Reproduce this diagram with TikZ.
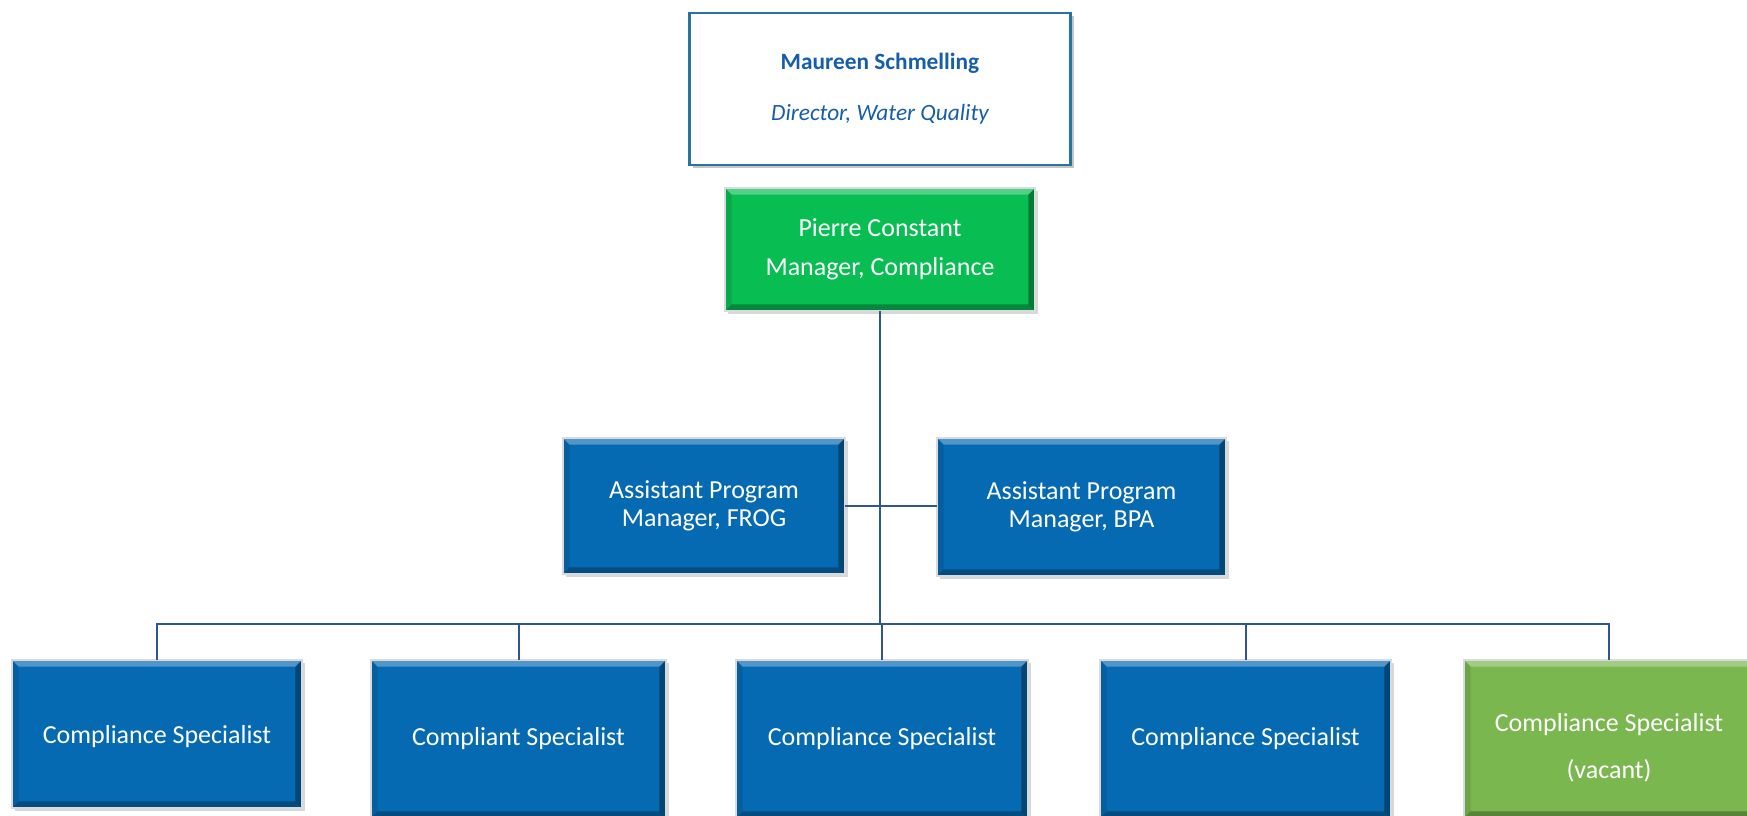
\documentclass[tikz,border=0pt]{standalone}
\usepackage{fontspec}
\setmainfont{Carlito}
\usetikzlibrary{shadows}
\definecolor{boxblue}{RGB}{6,106,178}
\definecolor{mgrgreen}{RGB}{8,189,82}
\definecolor{vacgreen}{RGB}{123,183,79}
\definecolor{linkblue}{RGB}{47,85,151}
\definecolor{topblue}{RGB}{23,94,168}
\definecolor{topborder}{RGB}{40,115,160}
\definecolor{rimgray}{RGB}{215,218,222}
\tikzset{
  bevel/.style={path picture={
    \coordinate (bvnw) at (path picture bounding box.north west);
    \coordinate (bvne) at (path picture bounding box.north east);
    \coordinate (bvsw) at (path picture bounding box.south west);
    \coordinate (bvse) at (path picture bounding box.south east);
    \fill[white,opacity=.30] (bvnw) -- (bvne) -- ([shift={(-5pt,-5pt)}]bvne) -- ([shift={(5pt,-5pt)}]bvnw) -- cycle;
    \fill[black,opacity=.35] (bvne) -- (bvse) -- ([shift={(-5pt,5pt)}]bvse) -- ([shift={(-5pt,-5pt)}]bvne) -- cycle;
    \fill[black,opacity=.28] (bvse) -- (bvsw) -- ([shift={(5pt,5pt)}]bvsw) -- ([shift={(-5pt,5pt)}]bvse) -- cycle;
    \fill[black,opacity=.10] (bvsw) -- (bvnw) -- ([shift={(5pt,-5pt)}]bvnw) -- ([shift={(5pt,5pt)}]bvsw) -- cycle;
  }},
  orgbox/.style={rectangle, inner sep=0pt, outer sep=0pt, draw=rimgray, line width=0.8pt,
    text=white, align=center, bevel,
    drop shadow={opacity=0.3, shadow xshift=2pt, shadow yshift=-2pt},
    font=\fontsize{19.5}{21}\selectfont},
  bluebox/.style={orgbox, fill=boxblue},
  topbox/.style={rectangle, inner sep=0pt, outer sep=0pt, fill=white, draw=topborder,
    line width=2pt, text=topblue, align=center,
    drop shadow={opacity=0.45, shadow xshift=2.5pt, shadow yshift=-2.5pt},
    font=\fontsize{17.5}{20}\selectfont},
  link/.style={draw=linkblue, line width=1.5pt}
}
\begin{document}
\begin{tikzpicture}[x=0.75pt,y=-0.75pt]
\useasboundingbox (0,0) rectangle (1747,815);
\fill[white] (0,0) rectangle (1747,815);

\node[topbox, minimum width=285.75pt, minimum height=114pt] (top) at (880,89)
  {{\bfseries Maureen Schmelling}\\[18pt]{\itshape Director, Water Quality}};
\node[orgbox, fill=mgrgreen, minimum width=232.5pt, minimum height=92.25pt] (mgr) at (880,249.5)
  {Pierre Constant\\[8pt]Manager, Compliance};

\node[bluebox, minimum width=211.5pt, minimum height=102pt] (frog) at (704,506)
  {Assistant Program\\Manager, FROG};
\node[bluebox, minimum width=216.75pt, minimum height=103.5pt] (bpa) at (1081.5,507)
  {Assistant Program\\Manager, BPA};

\node[bluebox, minimum width=217.5pt, minimum height=111pt] (s1) at (157,734)
  {\raisebox{-7pt}[0pt][0pt]{Compliance Specialist}};
\node[bluebox, minimum width=221.25pt, minimum height=118.5pt] (s2) at (518.5,739)
  {Compliant Specialist};
\node[bluebox, minimum width=219pt, minimum height=118.5pt] (s3) at (882,739)
  {Compliance Specialist};
\node[bluebox, minimum width=218.25pt, minimum height=118.5pt] (s4) at (1245.5,739)
  {Compliance Specialist};
\node[orgbox, fill=vacgreen, minimum width=217.5pt, minimum height=118.5pt] (s5) at (1609,739)
  {\raisebox{-13pt}[0pt][0pt]{\begin{tabular}{@{}c@{}}Compliance Specialist\\[14pt](vacant)\end{tabular}}};

\coordinate (bus) at (880,624);
\draw[link] (mgr.south) -- (bus);
\draw[link] (frog.east) -- (frog.east -| bpa.west);
\draw[link] (bus) -| (s1.north);
\draw[link] (bus) -| (s2.north);
\draw[link] (bus) -| (s3.north);
\draw[link] (bus) -| (s4.north);
\draw[link] (bus) -| (s5.north);
\end{tikzpicture}
\end{document}
